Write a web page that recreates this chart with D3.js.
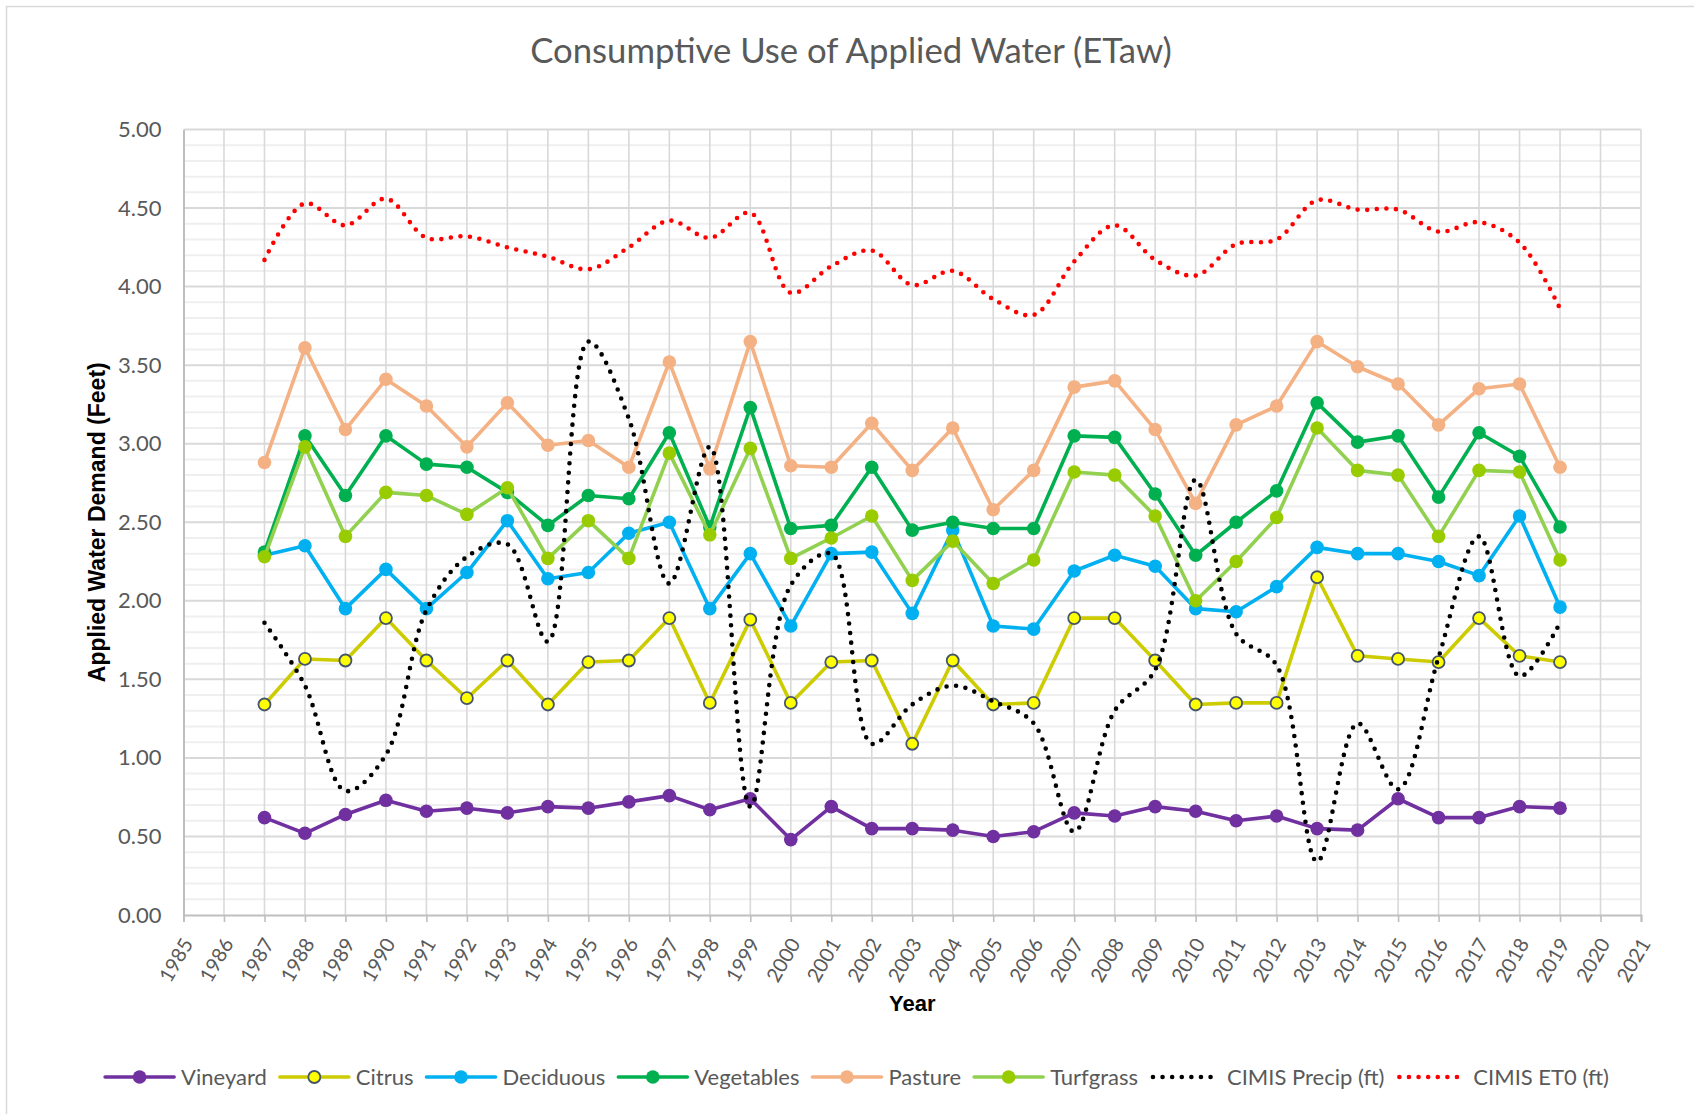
<!DOCTYPE html>
<html>
<head>
<meta charset="utf-8">
<script src="https://cdn.jsdelivr.net/npm/d3@7"></script>
<style>
  html, body { margin: 0; padding: 0; background: #ffffff; }
  svg { display: block; }
</style>
</head>
<body>
<svg id="chart" width="1694" height="1114"></svg>
<script>
// ---- data -------------------------------------------------------------
const years = d3.range(1987, 2020);
const xTickYears = d3.range(1985, 2022);
const yTicks = [0, 0.5, 1, 1.5, 2, 2.5, 3, 3.5, 4, 4.5, 5];

const vineyard   = [0.62,0.52,0.64,0.73,0.66,0.68,0.65,0.69,0.68,0.72,0.76,0.67,0.74,0.48,0.69,0.55,0.55,0.54,0.50,0.53,0.65,0.63,0.69,0.66,0.60,0.63,0.55,0.54,0.74,0.62,0.62,0.69,0.68];
const citrus     = [1.34,1.63,1.62,1.89,1.62,1.38,1.62,1.34,1.61,1.62,1.89,1.35,1.88,1.35,1.61,1.62,1.09,1.62,1.34,1.35,1.89,1.89,1.62,1.34,1.35,1.35,2.15,1.65,1.63,1.61,1.89,1.65,1.61];
const deciduous  = [2.29,2.35,1.95,2.20,1.95,2.18,2.51,2.14,2.18,2.43,2.50,1.95,2.30,1.84,2.30,2.31,1.92,2.45,1.84,1.82,2.19,2.29,2.22,1.95,1.93,2.09,2.34,2.30,2.30,2.25,2.16,2.54,1.96];
const vegetables = [2.31,3.05,2.67,3.05,2.87,2.85,2.69,2.48,2.67,2.65,3.07,2.47,3.23,2.46,2.48,2.85,2.45,2.50,2.46,2.46,3.05,3.04,2.68,2.29,2.50,2.70,3.26,3.01,3.05,2.66,3.07,2.92,2.47];
const pasture    = [2.88,3.61,3.09,3.41,3.24,2.98,3.26,2.99,3.02,2.85,3.52,2.84,3.65,2.86,2.85,3.13,2.83,3.10,2.58,2.83,3.36,3.40,3.09,2.62,3.12,3.24,3.65,3.49,3.38,3.12,3.35,3.38,2.85];
const turfgrass  = [2.28,2.98,2.41,2.69,2.67,2.55,2.72,2.27,2.51,2.27,2.94,2.42,2.97,2.27,2.40,2.54,2.13,2.38,2.11,2.26,2.82,2.80,2.54,2.00,2.25,2.53,3.10,2.83,2.80,2.41,2.83,2.82,2.26];
const cimisPrecip = [1.86,1.46,0.79,1.02,1.94,2.28,2.36,1.74,3.65,3.16,2.11,2.98,0.69,2.10,2.30,1.09,1.34,1.46,1.36,1.22,0.53,1.30,1.56,2.77,1.79,1.59,0.34,1.22,0.80,1.64,2.41,1.52,1.86];
const cimisEto    = [4.17,4.53,4.39,4.56,4.31,4.32,4.25,4.19,4.11,4.25,4.42,4.31,4.47,3.96,4.13,4.23,4.01,4.10,3.92,3.82,4.16,4.39,4.17,4.07,4.27,4.30,4.55,4.49,4.49,4.35,4.41,4.28,3.86];

// ---- series styling ---------------------------------------------------
const series = [
  { name: "Vineyard",   values: vineyard,   line: "#7030A0", fill: "#7030A0", stroke: "none" },
  { name: "Citrus",     values: citrus,     line: "#CCCC00", fill: "#FFFF00", stroke: "#44546A" },
  { name: "Deciduous",  values: deciduous,  line: "#00B0F0", fill: "#00B0F0", stroke: "none" },
  { name: "Vegetables", values: vegetables, line: "#00B050", fill: "#00B050", stroke: "none" },
  { name: "Pasture",    values: pasture,    line: "#F4B183", fill: "#F4B183", stroke: "none" },
  { name: "Turfgrass",  values: turfgrass,  line: "#92D050", fill: "#99CC00", stroke: "none" },
  { name: "CIMIS Precip (ft)", values: cimisPrecip, line: "#000000", dotted: true },
  { name: "CIMIS ET0 (ft)",    values: cimisEto,    line: "#FF0000", dotted: true }
];

// ---- layout -----------------------------------------------------------
const svg = d3.select("#chart");
const W = 1694, H = 1114;
const plot = { left: 183.5, right: 1641, top: 129.5, bottom: 915 };
const textGray = "#595959";
const labelFont = "Lato, 'Open Sans', sans-serif";
const boldFont = "'Liberation Sans', Arial, sans-serif";

const x = d3.scaleLinear().domain([1985, 2021]).range([plot.left, plot.right]);
const y = d3.scaleLinear().domain([0, 5]).range([plot.bottom, plot.top]);

// chart area frame
svg.append("rect")
  .attr("x", 6.5).attr("y", 6.5)
  .attr("width", W + 20).attr("height", H + 20)
  .attr("fill", "#fff").attr("stroke", "#d9d9d9").attr("stroke-width", 1.5);

// minor horizontal gridlines every 0.1
const minorVals = d3.range(1, 50).map(i => i / 10).filter(v => Math.abs(v * 2 - Math.round(v * 2)) > 1e-6);
svg.append("g").selectAll("line").data(minorVals).join("line")
  .attr("x1", plot.left).attr("x2", plot.right)
  .attr("y1", d => y(d)).attr("y2", d => y(d))
  .attr("stroke", "#efefef").attr("stroke-width", 2);

// vertical gridlines (one per year)
svg.append("g").selectAll("line").data(xTickYears.slice(1)).join("line")
  .attr("x1", d => x(d)).attr("x2", d => x(d))
  .attr("y1", plot.top).attr("y2", plot.bottom)
  .attr("stroke", "#d9d9d9").attr("stroke-width", 1.6);

// major horizontal gridlines
svg.append("g").selectAll("line").data(yTicks.slice(1)).join("line")
  .attr("x1", plot.left).attr("x2", plot.right)
  .attr("y1", d => y(d)).attr("y2", d => y(d))
  .attr("stroke", "#d9d9d9").attr("stroke-width", 2);

// y axis
const yAxis = svg.append("g")
  .attr("transform", `translate(${plot.left},0)`)
  .call(d3.axisLeft(y).tickValues(yTicks).tickSize(0).tickPadding(22).tickFormat(d3.format(".2f")));
yAxis.select(".domain").attr("stroke", "#bfbfbf").attr("stroke-width", 2);
yAxis.selectAll("text")
  .attr("fill", textGray).attr("font-family", labelFont).attr("font-size", 22);

// x axis
const xAxis = svg.append("g")
  .attr("transform", `translate(0,${plot.bottom})`)
  .call(d3.axisBottom(x).tickValues(xTickYears).tickSize(7).tickFormat(d3.format("d")));
xAxis.select(".domain").attr("stroke", "#bfbfbf").attr("stroke-width", 2);
xAxis.selectAll(".tick line").attr("stroke", "#bfbfbf").attr("stroke-width", 1.6);
xAxis.selectAll("text")
  .attr("fill", textGray).attr("font-family", labelFont).attr("font-size", 20)
  .attr("text-anchor", "end")
  .attr("dy", "0.35em")
  .attr("transform", "translate(-5,20) rotate(-60)");

// axis titles
svg.append("text")
  .attr("x", (plot.left + plot.right) / 2).attr("y", 1011)
  .attr("text-anchor", "middle")
  .attr("font-family", boldFont).attr("font-weight", "bold").attr("font-size", 22)
  .attr("fill", "#000").text("Year");

svg.append("text")
  .attr("transform", `translate(97,${(plot.top + plot.bottom) / 2}) rotate(-90)`)
  .attr("text-anchor", "middle").attr("dy", "0.35em")
  .attr("font-family", boldFont).attr("font-weight", "bold").attr("font-size", 23)
  .attr("fill", "#000").text("Applied Water Demand (Feet)");

// chart title
svg.append("text")
  .attr("x", 851).attr("y", 63)
  .attr("text-anchor", "middle")
  .attr("font-family", labelFont).attr("font-size", 34.7)
  .attr("fill", textGray).text("Consumptive Use of Applied Water (ETaw)");

// ---- series -----------------------------------------------------------
const straight = d3.line().x(d => x(d.year)).y(d => y(d.value));
const smooth = d3.line().x(d => x(d.year)).y(d => y(d.value)).curve(d3.curveCatmullRom.alpha(0.5));
const markerR = 6.8;

series.forEach(s => {
  const pts = years.map((yr, i) => ({ year: yr, value: s.values[i] }));
  const g = svg.append("g");
  if (s.dotted) {
    g.append("path").datum(pts)
      .attr("d", smooth)
      .attr("fill", "none").attr("stroke", s.line)
      .attr("stroke-width", 4.6).attr("stroke-linecap", "round")
      .attr("stroke-dasharray", "0 9.6");
  } else {
    g.append("path").datum(pts)
      .attr("d", straight)
      .attr("fill", "none").attr("stroke", s.line)
      .attr("stroke-width", 3.6).attr("stroke-linejoin", "round");
    g.selectAll("circle").data(pts).join("circle")
      .attr("cx", d => x(d.year)).attr("cy", d => y(d.value))
      .attr("r", s.stroke === "none" ? markerR : markerR - 0.8)
      .attr("fill", s.fill)
      .attr("stroke", s.stroke).attr("stroke-width", s.stroke === "none" ? 0 : 1.8);
  }
});

// ---- legend -----------------------------------------------------------
const legend = svg.append("g");
const legendY = 1077;
const lineLen = 69, textGap = 7, itemGap = 13;
let cursor = 0;
series.forEach(s => {
  const item = legend.append("g").attr("transform", `translate(${cursor},${legendY})`);
  if (s.dotted) {
    item.append("line")
      .attr("x1", 2).attr("x2", lineLen - 2).attr("y1", 0).attr("y2", 0)
      .attr("stroke", s.line).attr("stroke-width", 4.6)
      .attr("stroke-linecap", "round").attr("stroke-dasharray", "0 9.6");
  } else {
    item.append("line")
      .attr("x1", 0).attr("x2", lineLen).attr("y1", 0).attr("y2", 0)
      .attr("stroke", s.line).attr("stroke-width", 3.6).attr("stroke-linecap", "round");
    item.append("circle")
      .attr("cx", lineLen / 2).attr("cy", 0)
      .attr("r", s.stroke === "none" ? markerR : markerR - 0.8)
      .attr("fill", s.fill)
      .attr("stroke", s.stroke).attr("stroke-width", s.stroke === "none" ? 0 : 1.8);
  }
  const t = item.append("text")
    .attr("x", lineLen + textGap).attr("y", 0).attr("dy", "0.35em")
    .attr("font-family", labelFont).attr("font-size", 22)
    .attr("fill", textGray).text(s.name);
  cursor += lineLen + textGap + t.node().getComputedTextLength() + itemGap;
});
const legendWidth = cursor - itemGap;
legend.attr("transform", `translate(${857 - legendWidth / 2},0)`);
</script>
</body>
</html>
